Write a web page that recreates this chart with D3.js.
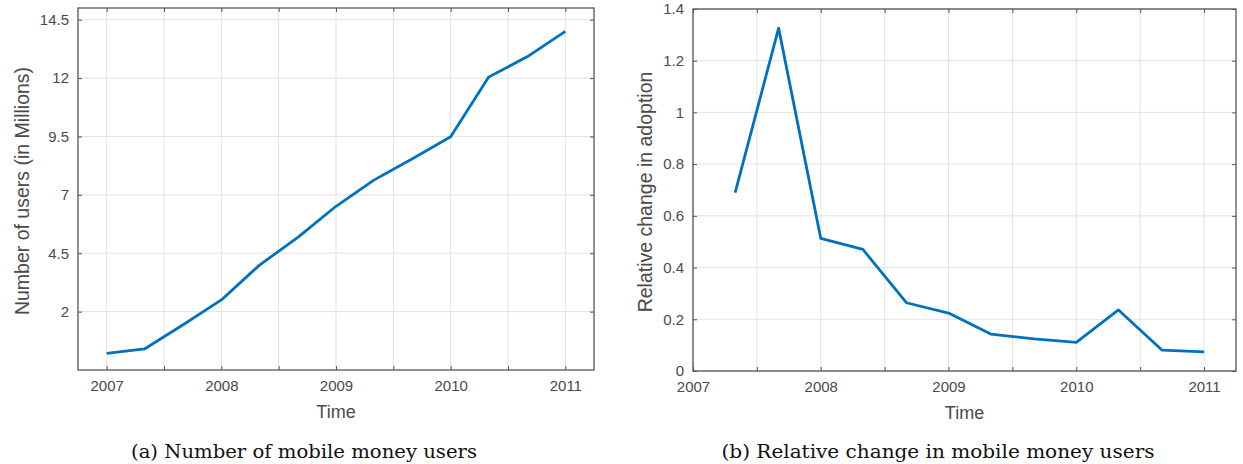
<!DOCTYPE html>
<html>
<head>
<meta charset="utf-8">
<script src="https://cdn.jsdelivr.net/npm/d3@7"></script>
<style>
  body { margin: 0; background: #fff; }
  svg text { font-family: "Liberation Sans", Arial, sans-serif; }
</style>
</head>
<body>
<div id="chart"></div>
<script>
// time points (years), one every four months
var timesA = [2007, 2007.33, 2007.67, 2008, 2008.33, 2008.67, 2009, 2009.33, 2009.67, 2010, 2010.33, 2010.67, 2011];
var usersMillions = [0.21, 0.40, 1.45, 2.50, 3.98, 5.19, 6.51, 7.63, 8.56, 9.49, 12.04, 12.92, 14.0];

var timesB = [2007.33, 2007.67, 2008, 2008.33, 2008.67, 2009, 2009.33, 2009.67, 2010, 2010.33, 2010.67, 2011];
var relChange = [0.69, 1.326, 0.513, 0.47, 0.264, 0.224, 0.143, 0.124, 0.111, 0.236, 0.081, 0.074];

var yearTicks = [2007, 2008, 2009, 2010, 2011];
var halfYearTicks = [2007, 2007.5, 2008, 2008.5, 2009, 2009.5, 2010, 2010.5, 2011];
var yTicksA = [2, 4.5, 7, 9.5, 12, 14.5];
var yTicksB = [0, 0.2, 0.4, 0.6, 0.8, 1, 1.2, 1.4];

var W = 1243, H = 464;
var lineColor = "#0072BD", axisColor = "#555", textColor = "#4a4a4a", gridColor = "#e3e3e3";

var svg = d3.select("#chart").append("svg")
    .attr("width", W)
    .attr("height", H);

function drawPanel(cfg) {
    var x = d3.scaleLinear().domain(cfg.xDomain).range([cfg.left, cfg.right]);
    var y = d3.scaleLinear().domain(cfg.yDomain).range([cfg.bottom, cfg.top]);
    var g = svg.append("g");

    // grid
    g.selectAll(".gx").data(halfYearTicks).enter().append("line")
        .attr("x1", d => x(d)).attr("x2", d => x(d))
        .attr("y1", cfg.top).attr("y2", cfg.bottom)
        .attr("stroke", gridColor).attr("stroke-width", 1);
    g.selectAll(".gy").data(cfg.yTicks).enter().append("line")
        .attr("x1", cfg.left).attr("x2", cfg.right)
        .attr("y1", d => y(d)).attr("y2", d => y(d))
        .attr("stroke", gridColor).attr("stroke-width", 1);

    // axes (ticks inward, mirrored on top/right)
    var xb = d3.axisBottom(x).tickValues(halfYearTicks).tickSizeInner(-4).tickSizeOuter(0).tickPadding(10)
        .tickFormat(d => yearTicks.indexOf(d) >= 0 ? d : "");
    var xt = d3.axisTop(x).tickValues(halfYearTicks).tickSizeInner(-4).tickSizeOuter(0).tickFormat("");
    var yl = d3.axisLeft(y).tickValues(cfg.yTicks).tickSizeInner(-4).tickSizeOuter(0).tickPadding(9)
        .tickFormat(d3.format("~g"));
    var yr = d3.axisRight(y).tickValues(cfg.yTicks).tickSizeInner(-4).tickSizeOuter(0).tickFormat("");

    [[xb, "translate(0," + cfg.bottom + ")"], [xt, "translate(0," + cfg.top + ")"],
     [yl, "translate(" + cfg.left + ",0)"], [yr, "translate(" + cfg.right + ",0)"]].forEach(function (a) {
        var ax = g.append("g").attr("transform", a[1]).call(a[0]);
        ax.select(".domain").remove();
        ax.selectAll("line").attr("stroke", axisColor);
        ax.selectAll("text").attr("fill", textColor).style("font-size", "15px");
    });

    // box
    g.append("rect")
        .attr("x", cfg.left).attr("y", cfg.top)
        .attr("width", cfg.right - cfg.left).attr("height", cfg.bottom - cfg.top)
        .attr("fill", "none").attr("stroke", axisColor).attr("stroke-width", 1.3);

    // line
    var line = d3.line().x(d => x(d[0])).y(d => y(d[1]));
    g.append("path")
        .datum(d3.zip(cfg.xs, cfg.ys))
        .attr("d", line)
        .attr("fill", "none")
        .attr("stroke", lineColor)
        .attr("stroke-width", 2.8)
        .attr("stroke-linejoin", "round");

    // labels
    g.append("text")
        .attr("x", (cfg.left + cfg.right) / 2).attr("y", cfg.bottom + 48)
        .attr("text-anchor", "middle").attr("fill", textColor)
        .style("font-size", "18px").text("Time");
    g.append("text")
        .attr("transform", "translate(" + cfg.yLabelX + "," + ((cfg.top + cfg.bottom) / 2 + 2) + ") rotate(-90)")
        .attr("text-anchor", "middle").attr("fill", textColor)
        .style("font-size", "19.5px").text(cfg.yLabel);
    g.append("text")
        .attr("x", cfg.captionX).attr("y", 458)
        .attr("text-anchor", "middle").attr("fill", "#111")
        .attr("textLength", cfg.captionW).attr("lengthAdjust", "spacingAndGlyphs")
        .style("font-family", "'DejaVu Serif', 'Liberation Serif', serif")
        .style("font-size", "18px").text(cfg.caption);
    return g;
}

drawPanel({
    left: 78, right: 594, top: 8, bottom: 370,
    xDomain: [2006.75, 2011.25], yDomain: [-0.5, 15],
    yTicks: yTicksA, xs: timesA, ys: usersMillions,
    yLabel: "Number of users (in Millions)", yLabelX: 29,
    caption: "(a)  Number of mobile money users", captionX: 304, captionW: 346
});

drawPanel({
    left: 693, right: 1236, top: 9, bottom: 371,
    xDomain: [2007, 2011.25], yDomain: [0, 1.4],
    yTicks: yTicksB, xs: timesB, ys: relChange,
    yLabel: "Relative change in adoption", yLabelX: 652,
    caption: "(b)  Relative change in mobile money users", captionX: 938, captionW: 433
});
</script>
</body>
</html>
